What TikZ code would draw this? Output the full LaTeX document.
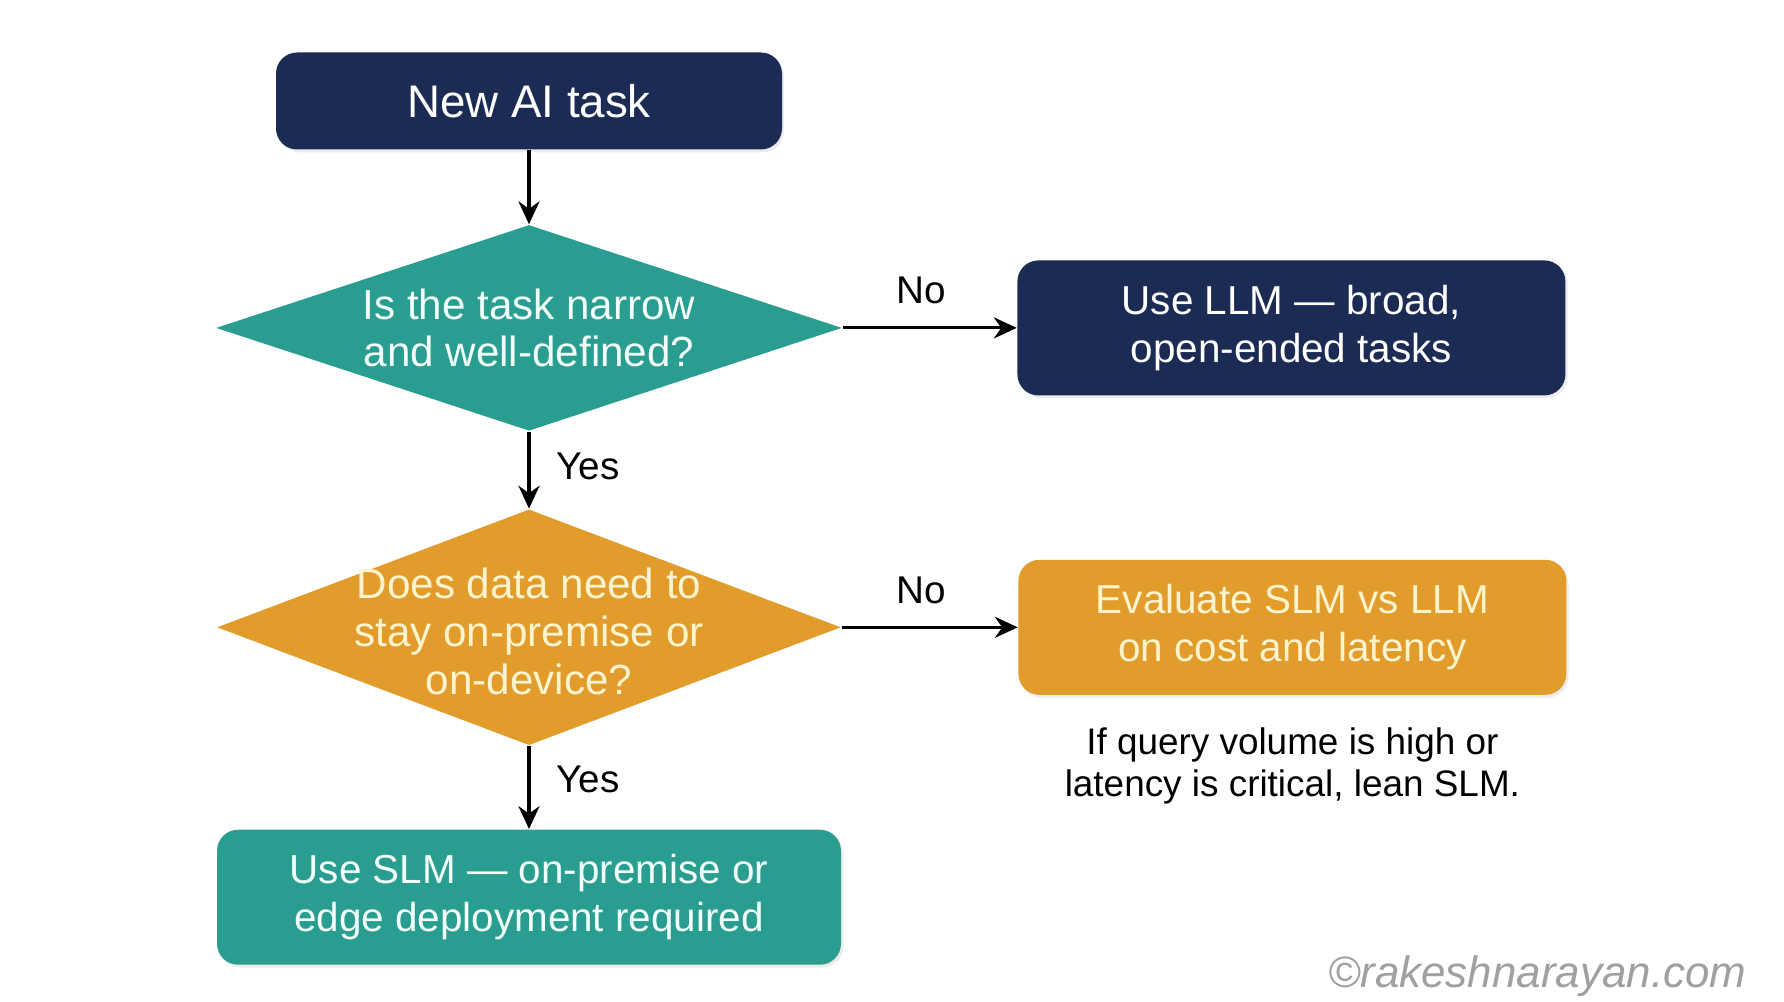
\documentclass[tikz,border=0pt]{standalone}
\usepackage{fontspec}
\setmainfont{Liberation Sans}
\usetikzlibrary{arrows.meta,shapes.geometric,positioning,shadows}
\definecolor{flownavy}{RGB}{28,43,84}
\definecolor{flowteal}{RGB}{41,157,143}
\definecolor{floworange}{RGB}{226,156,44}
\definecolor{orangetext}{RGB}{255,244,206}
\definecolor{tealtext}{RGB}{242,255,250}
\definecolor{markgrey}{RGB}{160,160,160}
\tikzset{
    % Basic rounded action box
    actionbox/.style={
        rectangle, rounded corners=6pt, draw=none,
        align=center, inner sep=0pt,
        font=\fontsize{11.5}{13.6}\selectfont,
        drop shadow={opacity=0.15, shadow xshift=0.6pt, shadow yshift=-0.8pt}
    },
    % Colored variants
    navybox/.style={actionbox, fill=flownavy, text=white},
    tealbox/.style={actionbox, fill=flowteal, text=tealtext},
    orangebox/.style={actionbox, fill=floworange, text=orangetext},
    % Decision diamonds (text is set on top of them)
    decision/.style={
        diamond, aspect=3, inner sep=0pt, draw=none,
        minimum width=6.26cm
    },
    decisiontext/.style={align=center, font=\fontsize{12}{13.6}\selectfont},
    % Connectors and their labels
    flow/.style={-{Stealth[length=6.5pt,width=6pt]}, line width=0.9pt, black},
    branch/.style={font=\fontsize{11}{13}\selectfont, text=black},
}

\begin{document}
\begin{tikzpicture}
  \useasboundingbox[fill=white] (0,0) rectangle (17.84,-10.02);

  % main column
  \node[navybox, minimum width=5.06cm, minimum height=0.97cm,
        font=\fontsize{13}{15}\selectfont] (start) at (5.29,-1.01) {New AI task};
  \node[decision, fill=flowteal, minimum height=2.06cm,
        below=0.74cm of start] (narrow) {};
  \node[decisiontext, text=tealtext] (narrowtxt) at (narrow)
    {Is the task narrow\\and well-defined?};
  \node[decision, fill=floworange, minimum width=6.24cm, minimum height=2.36cm,
        below=0.77cm of narrow] (onprem) {};
  \node[decisiontext, text=orangetext] (onpremtxt) at ([yshift=-0.04cm]onprem)
    {Does data need to\\stay on-premise or\\on-device?};
  \node[tealbox, minimum width=6.24cm, minimum height=1.35cm,
        below=0.83cm of onprem] (slm)
    {Use SLM — on-premise or\\edge deployment required};

  % right column
  \node[navybox, minimum width=5.48cm, minimum height=1.35cm,
        right=1.74cm of narrow] (llm) {Use LLM — broad,\\open-ended tasks};
  \node[orangebox, minimum width=5.48cm, minimum height=1.35cm,
        right=1.76cm of onprem] (eval) {Evaluate SLM vs LLM\\on cost and latency};
  \node[align=center, font=\fontsize{10.5}{12}\selectfont,
        below=0.2cm of eval] (hint)
    {If query volume is high or\\latency is critical, lean SLM.};

  % connectors
  \draw[flow] (start) -- (narrow.north);
  \draw[flow] (narrow.east) -- node[branch, above=3pt, pos=0.45] {No} (llm.west);
  \draw[flow] (narrow.south) -- node[branch, right=4pt, pos=0.45] {Yes} (onprem.north);
  \draw[flow] (onprem.east) -- node[branch, above=3pt, pos=0.45] {No} (eval.west);
  \draw[flow] (onprem.south) -- node[branch, right=4pt, pos=0.4] {Yes} (slm);

  \node[anchor=east, inner sep=0pt, text=markgrey,
        font=\fontsize{12.5}{15}\selectfont\itshape]
    (mark) at (17.47,-9.76) {©rakeshnarayan.com};
\end{tikzpicture}
\end{document}
